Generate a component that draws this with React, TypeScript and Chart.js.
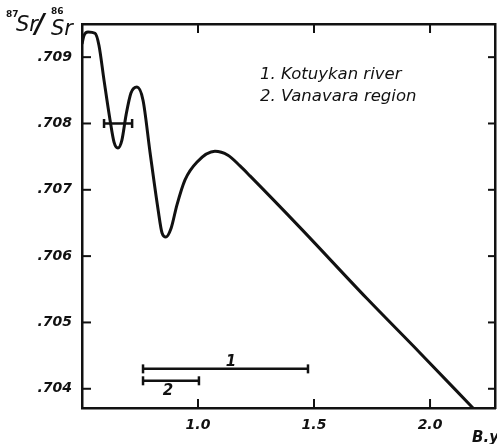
import React, { useEffect, useRef } from 'react';
import { Chart, registerables } from 'chart.js';

Chart.register(...registerables);

// Age in billions of years (B.y.) and 87Sr/86Sr ratio along the curve
const curveAge = [0.5, 0.509, 0.526, 0.556, 0.573, 0.595, 0.621, 0.638, 0.655, 0.672, 0.69, 0.711, 0.737, 0.763, 0.793, 0.828, 0.845, 0.862, 0.884, 0.909, 0.944, 0.996, 1.073, 1.129, 1.181, 1.224, 1.44, 1.728, 1.957, 2.185];
const curveRatio = [0.7092, 0.70933, 0.70938, 0.70936, 0.70918, 0.70865, 0.70805, 0.70772, 0.70763, 0.70775, 0.70813, 0.70846, 0.70855, 0.70835, 0.70757, 0.7067, 0.70635, 0.70629, 0.70642, 0.70677, 0.70715, 0.70742, 0.70758, 0.70752, 0.70736, 0.70721, 0.70643, 0.70536, 0.70454, 0.70371];

// horizontal range bars
const rangeAgeBar0 = [0.595, 0.716];
const rangeRatioBar0 = 0.708;
const rangeAgeBar1 = [0.763, 1.474];
const rangeRatioBar1 = 0.7043;
const rangeAgeBar2 = [0.763, 1.004];
const rangeRatioBar2 = 0.70412;

const xTickValues = [1.0, 1.5, 2.0];
const xTickLabels = ['1.0', '1.5', '2.0'];
const yTickValues = [0.704, 0.705, 0.706, 0.707, 0.708, 0.709];
const yTickLabels = ['.704', '.705', '.706', '.707', '.708', '.709'];

const legendLines = ['1. Kotuykan river', '2. Vanavara region'];
const barLabels = ['1', '2'];
const xTitle = 'B.y.';

const INK = '#111';
const HAND = '"DejaVu Sans", sans-serif';

const decorPlugin = {
  id: 'decor',
  afterDraw(chart: any) {
    const { ctx, chartArea: a, scales } = chart;
    const xs = scales.x;
    const ys = scales.y;
    ctx.save();
    ctx.strokeStyle = INK;
    ctx.lineWidth = 2;
    const seg = (x1: number, y1: number, x2: number, y2: number) => {
      ctx.beginPath();
      ctx.moveTo(x1, y1);
      ctx.lineTo(x2, y2);
      ctx.stroke();
    };
    for (const v of xTickValues) {
      const px = xs.getPixelForValue(v);
      seg(px, a.bottom, px, a.bottom - 9);
      seg(px, a.top, px, a.top + 9);
    }
    for (const v of yTickValues) {
      const py = ys.getPixelForValue(v);
      seg(a.left, py, a.left + 9, py);
      seg(a.right, py, a.right - 7, py);
    }

    ctx.fillStyle = INK;
    ctx.textBaseline = 'middle';
    ctx.textAlign = 'left';
    ctx.font = `italic 16.5px ${HAND}`;
    ctx.fillText(legendLines[0], 260, 75);
    ctx.fillText(legendLines[1], 260, 97);

    ctx.font = `italic bold 15px ${HAND}`;
    ctx.textAlign = 'center';
    ctx.fillText(barLabels[0], xs.getPixelForValue(1.142), ys.getPixelForValue(rangeRatioBar1) - 7);
    ctx.fillText(barLabels[1], xs.getPixelForValue(0.87), ys.getPixelForValue(rangeRatioBar2) + 10);

    // x title
    ctx.textAlign = 'left';
    ctx.textBaseline = 'alphabetic';
    ctx.font = `italic bold 15px ${HAND}`;
    ctx.fillText(xTitle, 472, 442);

    // y title 87Sr/86Sr
    ctx.font = `bold 9px ${HAND}`;
    ctx.fillText('87', 6, 17);
    ctx.font = `italic 21px ${HAND}`;
    ctx.fillText('Sr', 16, 31);
    ctx.font = `italic bold 26px ${HAND}`;
    ctx.fillText('/', 35, 33);
    ctx.font = `bold 9px ${HAND}`;
    ctx.fillText('86', 51, 14);
    ctx.font = `italic 21px ${HAND}`;
    ctx.fillText('Sr', 51, 35);
    ctx.restore();
  },
};

function rangeDataset(ages: number[], ratio: number) {
  return {
    type: 'line' as const,
    data: ages.map((x) => ({ x, y: ratio })),
    borderColor: INK,
    borderWidth: 2.5,
    pointStyle: 'line' as const,
    pointRotation: 90,
    pointRadius: 4.5,
    pointBorderWidth: 2.5,
    pointBorderColor: INK,
    tension: 0,
  };
}

const noPad = (s: any) => {
  s.paddingLeft = 0;
  s.paddingRight = 0;
  s.paddingTop = 0;
  s.paddingBottom = 0;
};

export default function App() {
  const ref = useRef<HTMLCanvasElement>(null);
  useEffect(() => {
    if (!ref.current) return;
    const chart = new Chart(ref.current, {
      type: 'line',
      data: {
        datasets: [
          {
            data: curveAge.map((x, i) => ({ x, y: curveRatio[i] })),
            borderColor: INK,
            borderWidth: 3,
            pointRadius: 0,
            cubicInterpolationMode: 'monotone',
          },
          rangeDataset(rangeAgeBar0, rangeRatioBar0),
          rangeDataset(rangeAgeBar1, rangeRatioBar1),
          rangeDataset(rangeAgeBar2, rangeRatioBar2),
        ],
      },
      options: {
        animation: false,
        responsive: false,
        layout: { padding: 0, autoPadding: false },
        plugins: { legend: { display: false }, tooltip: { enabled: false } },
        scales: {
          x: {
            type: 'linear',
            position: 'bottom',
            min: 0.5,
            max: 2.28,
            afterBuildTicks: (s: any) => {
              s.ticks = xTickValues.map((value) => ({ value }));
            },
            afterFit: (s: any) => {
              s.height = 36;
              noPad(s);
            },
            ticks: {
              color: INK,
              padding: 9,
              font: { family: HAND, style: 'italic', weight: 'bold', size: 14 },
              callback: (v: any) => xTickLabels[xTickValues.indexOf(Number(v))] ?? '',
              maxRotation: 0,
            },
            grid: { drawOnChartArea: false, drawTicks: false },
            border: { display: true, color: INK, width: 2.5 },
          },
          x2: {
            type: 'linear',
            position: 'top',
            min: 0.5,
            max: 2.28,
            ticks: { display: false },
            afterFit: (s: any) => {
              s.height = 24;
              noPad(s);
            },
            grid: { drawOnChartArea: false, drawTicks: false },
            border: { display: true, color: INK, width: 2.5 },
          },
          y: {
            type: 'linear',
            position: 'left',
            min: 0.70371,
            max: 0.7095,
            afterBuildTicks: (s: any) => {
              s.ticks = yTickValues.map((value) => ({ value }));
            },
            afterFit: (s: any) => {
              s.width = 82;
              noPad(s);
            },
            ticks: {
              color: INK,
              padding: 10,
              font: { family: HAND, style: 'italic', weight: 'bold', size: 14 },
              callback: (v: any) => {
                const i = yTickValues.findIndex((t) => Math.abs(t - Number(v)) < 1e-7);
                return i >= 0 ? yTickLabels[i] : '';
              },
            },
            grid: { drawOnChartArea: false, drawTicks: false },
            border: { display: true, color: INK, width: 2.5 },
          },
          y2: {
            type: 'linear',
            position: 'right',
            min: 0.70371,
            max: 0.7095,
            ticks: { display: false },
            afterFit: (s: any) => {
              s.width = 2;
              noPad(s);
            },
            grid: { drawOnChartArea: false, drawTicks: false },
            border: { display: true, color: INK, width: 2.5 },
          },
        },
      },
      plugins: [decorPlugin],
    } as any);
    return () => chart.destroy();
  }, []);
  return (
    <div style={{ position: 'absolute', left: 0, top: 0, width: 497, height: 444, background: '#fff' }}>
      <canvas ref={ref} width={497} height={444} style={{ width: 497, height: 444, display: 'block' }} />
    </div>
  );
}
